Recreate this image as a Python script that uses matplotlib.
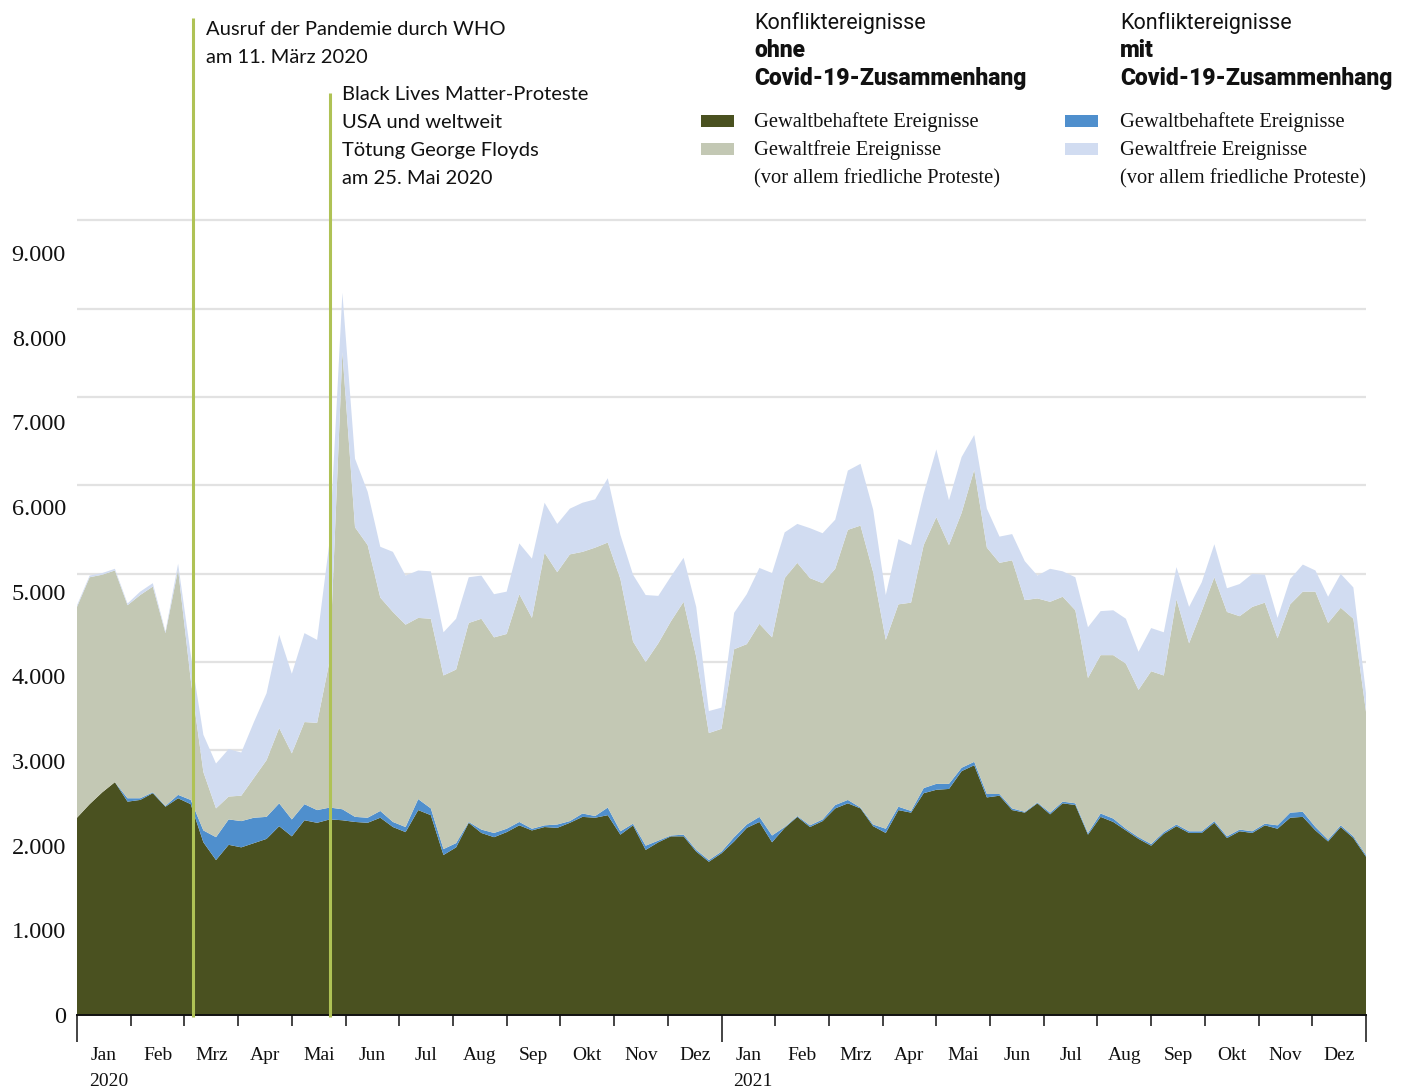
import numpy as np
import matplotlib
matplotlib.use("Agg")
import matplotlib.pyplot as plt
import matplotlib.transforms as mtransforms
from matplotlib.patches import Rectangle

# weekly counts, Jan 2020 - Dez 2021
violent_no_covid = [
    2330, 2490, 2630, 2750, 2520, 2540, 2620, 2460, 2560, 2490,
    2040, 1830, 2010, 1980, 2030, 2080, 2230, 2110, 2300, 2270,
    2310, 2300, 2280, 2270, 2330, 2220, 2160, 2420, 2360, 1890,
    1980, 2270, 2150, 2100, 2160, 2240, 2180, 2220, 2210, 2270,
    2340, 2330, 2360, 2130, 2240, 1950, 2040, 2110, 2110, 1930,
    1810, 1910, 2050, 2210, 2280, 2040, 2210, 2340, 2220, 2290,
    2440, 2500, 2440, 2230, 2150, 2420, 2390, 2620, 2660, 2670,
    2880, 2950, 2570, 2590, 2420, 2390, 2500, 2370, 2500, 2480,
    2130, 2340, 2280, 2180, 2080, 2000, 2140, 2230, 2150, 2150,
    2270, 2090, 2170, 2150, 2240, 2200, 2330, 2340, 2180, 2050,
    2220, 2090, 1870,
]
violent_covid = [
    0, 0, 0, 0, 40, 20, 10, 10, 40, 50,
    140, 270, 300, 310, 300, 260, 270, 200, 190, 150,
    140, 130, 60, 60, 80, 60, 60, 130, 80, 70,
    50, 10, 40, 50, 40, 40, 20, 20, 40, 20,
    40, 20, 90, 40, 20, 50, 20, 10, 20, 20,
    20, 20, 50, 40, 60, 80, 10, 10, 20, 20,
    40, 40, 10, 20, 50, 40, 20, 60, 70, 60,
    40, 40, 40, 20, 20, 10, 10, 20, 20, 20,
    20, 40, 40, 20, 20, 20, 20, 20, 20, 20,
    20, 20, 20, 20, 20, 40, 60, 60, 40, 20,
    20, 20, 20,
]
peaceful_no_covid = [
    2490, 2680, 2570, 2500, 2280, 2400, 2430, 2040, 2660, 1420,
    690, 340, 270, 300, 470, 670, 890, 780, 970, 1030,
    1740, 5400, 3420, 3220, 2520, 2480, 2390, 2140, 2240, 2050,
    2050, 2350, 2490, 2310, 2300, 2690, 2490, 3220, 2980, 3150,
    3090, 3170, 3130, 2980, 2150, 2170, 2330, 2530, 2750, 2280,
    1500, 1450, 2220, 2130, 2280, 2340, 2940, 2990, 2920, 2790,
    2790, 3190, 3330, 2980, 2230, 2390, 2460, 2870, 3150, 2820,
    3010, 3450, 2910, 2730, 2930, 2500, 2410, 2490, 2420, 2280,
    1830, 1870, 1930, 1950, 1740, 2040, 1850, 2660, 2220, 2600,
    2880, 2650, 2520, 2650, 2610, 2210, 2460, 2600, 2780, 2560,
    2570, 2570, 1690,
]
peaceful_covid = [
    20, 20, 20, 20, 20, 40, 40, 20, 70, 300,
    440, 530, 560, 510, 660, 790, 1100, 940, 1050, 980,
    1420, 700, 810, 630, 600, 710, 580, 560, 560, 510,
    600, 540, 510, 510, 500, 600, 700, 590, 570, 540,
    580, 570, 760, 520, 790, 790, 560, 530, 520, 590,
    260, 250, 430, 590, 660, 760, 540, 460, 590, 590,
    580, 700, 730, 740, 530, 770, 680, 610, 800, 530,
    660, 410, 460, 310, 310, 460, 270, 390, 300, 390,
    600, 520, 530, 530, 450, 510, 510, 380, 430, 340,
    390, 280, 380, 390, 330, 240, 300, 320, 250, 310,
    400, 370, 220,
]

months = ["Jan", "Feb", "Mrz", "Apr", "Mai", "Jun",
          "Jul", "Aug", "Sep", "Okt", "Nov", "Dez"] * 2
years = ["2020", "2021"]
y_ticks = list(range(0, 9001, 1000))

# events: month position on the axis, annotation lines
events = [
    (2.16, 1.251, ["Ausruf der Pandemie durch WHO", "am 11. März 2020"]),
    (4.71, 1.157, ["Black Lives Matter-Proteste", "USA und weltweit",
                   "Tötung George Floyds", "am 25. Mai 2020"]),
]

C_OLIVE = "#4a5120"
C_BLUE = "#4f8fcd"
C_GREY = "#c3c8b4"
C_LAV = "#d1dcf1"
C_EVENT = "#afc255"
SERIF = "Liberation Serif"

W, H = 1407, 1092
fig = plt.figure(figsize=(W / 100, H / 100), dpi=100)


def fx(px):
    return px / W


def fy(py):
    return 1 - py / H


ax = fig.add_axes([fx(77), fy(1015), (1366 - 77) / W, (1015 - 218) / H])
ymax = 9413

# gridlines sit on a slightly different scale than the labels in the original
ax_g = ax.twinx()
ax_g.set_ylim(0, ymax / 1.0428)
ax_g.set_yticks(range(1000, 9001, 1000))
ax_g.grid(axis="y", color="#e2e2e2", lw=1.6)
ax_g.tick_params(axis="y", length=0, labelright=False)
for s in ax_g.spines.values():
    s.set_visible(False)
ax_g.set_zorder(1)
ax.set_zorder(2)
ax.patch.set_visible(False)

n = len(violent_no_covid)
x = np.linspace(0, 24, n)
ax.stackplot(x, violent_no_covid, violent_covid, peaceful_no_covid, peaceful_covid,
             colors=[C_OLIVE, C_BLUE, C_GREY, C_LAV], linewidth=0)

ax.set_xlim(0, 24)
ax.set_ylim(0, ymax)
ax.set_yticks(y_ticks)
ax.set_yticklabels([f"{v:,}".replace(",", ".") for v in y_ticks],
                   fontfamily=SERIF, fontsize=17.5, color="#111111")
ax.tick_params(axis="y", length=0, pad=8)

for side in ["left", "top", "right"]:
    ax.spines[side].set_visible(False)
ax.spines["bottom"].set_linewidth(1.4)
ax.spines["bottom"].set_color("#111111")

ax.set_xticks(np.arange(25))
ax.set_xticklabels([])
ax.tick_params(axis="x", direction="out", length=8, width=1.1, color="#111111")
for i, t in enumerate(ax.xaxis.get_major_ticks()):
    if i % 12 == 0:
        t.tick1line.set_markersize(19.5)

trans = mtransforms.blended_transform_factory(ax.transData, ax.transAxes)
for i, m in enumerate(months):
    ax.text(i + 0.5, -0.0565, m, transform=trans, ha="center", va="baseline",
            fontfamily=SERIF, fontsize=14, color="#111111")
for j, yr in enumerate(years):
    ax.text(j * 12 + 0.22, -0.0885, yr, transform=trans, ha="left", va="baseline",
            fontfamily=SERIF, fontsize=14, color="#111111")

for pos, top, lines in events:
    ax.plot([pos, pos], [-0.003, top], transform=trans, color=C_EVENT,
            lw=2.2, clip_on=False, zorder=6, solid_capstyle="butt")

# event texts (pixel positions of the original layout)
for k, line in enumerate(events[0][2]):
    fig.text(fx(206), fy(35 + 28 * k), line, fontfamily="Lato", fontsize=14.5,
             va="baseline", color="#111111")
for k, line in enumerate(events[1][2]):
    fig.text(fx(342), fy(100 + 28 * k), line, fontfamily="Lato", fontsize=14.5,
             va="baseline", color="#111111")

# legend
groups = [
    (701, 754, "ohne", C_OLIVE, C_GREY),
    (1065, 1120, "mit", C_BLUE, C_LAV),
]
for px_patch, px_text, word, c_violent, c_peace in groups:
    fig.text(fx(px_text), fy(29), "Konfliktereignisse", fontfamily="Roboto",
             fontsize=15.5, va="baseline", color="#111111")
    fig.text(fx(px_text), fy(57), word, fontfamily="Roboto", fontweight="black",
             fontsize=16.5, va="baseline", color="#111111")
    fig.text(fx(px_text), fy(85), "Covid-19-Zusammenhang", fontfamily="Roboto",
             fontweight="black", fontsize=16.5, va="baseline", color="#111111")
    for yc, col in [(121, c_violent), (149, c_peace)]:
        fig.add_artist(Rectangle((fx(px_patch), fy(yc + 6)), 33 / W, 12 / H,
                                 transform=fig.transFigure, color=col, lw=0))
    for yb, txt in [(127, "Gewaltbehaftete Ereignisse"),
                    (155, "Gewaltfreie Ereignisse"),
                    (183, "(vor allem friedliche Proteste)")]:
        fig.text(fx(px_text), fy(yb), txt, fontfamily=SERIF, fontsize=14.8,
                 va="baseline", color="#111111")

fig.savefig("out.png", dpi=100, facecolor="white")
